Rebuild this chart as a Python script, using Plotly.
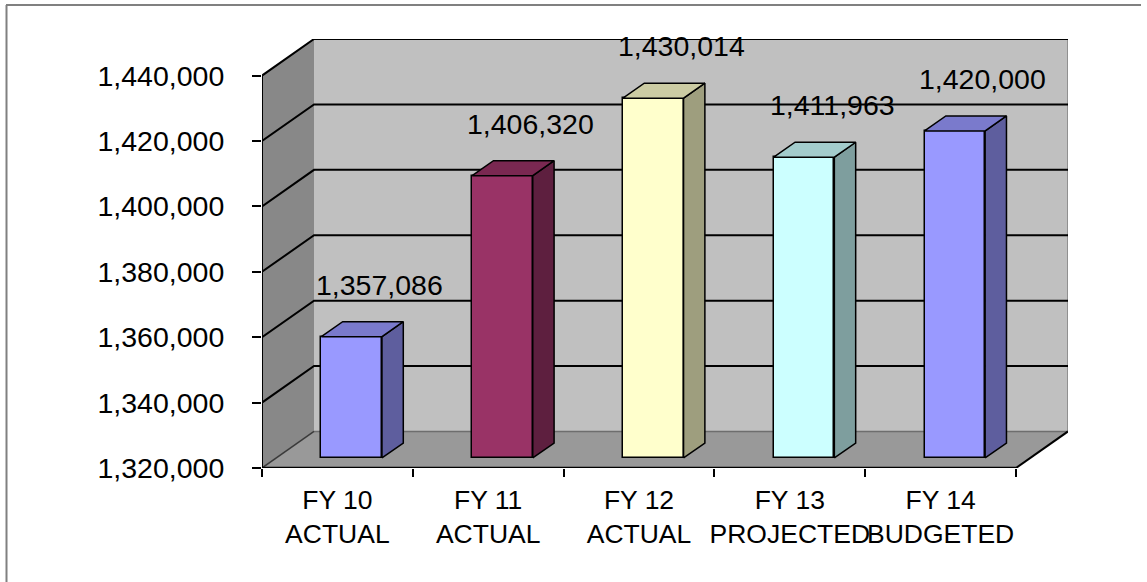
import plotly.graph_objects as go

# ---------------- data ----------------
categories = ["FY 10<br>ACTUAL", "FY 11<br>ACTUAL", "FY 12<br>ACTUAL",
              "FY 13<br>PROJECTED", "FY 14<br>BUDGETED"]
values = [1357086, 1406320, 1430014, 1411963, 1420000]
bar_colors = ["#9999FF", "#993366", "#FFFFCC", "#CCFFFF", "#9999FF"]
y_ticks = [1320000, 1340000, 1360000, 1380000, 1400000, 1420000, 1440000]

# ---------------- geometry of the fake 3D box ----------------
W_PX, H_PX = 1147, 582
ML, MR, MT, MB = 262, 79, 39, 114
Y0, YT = y_ticks[0], y_ticks[-1]
DX = 0.345      # depth offset in category units
DY = 11180      # depth offset in value units
F0 = 0.274      # depth position of bar front face (fraction of depth)
FD = 0.41       # bar depth (fraction of depth)
BW = 0.402      # bar width in category units
n = len(values)
XL, XR = -0.5, n - 0.5


def shade(hex_color, k):
    h = hex_color.lstrip("#")
    r, g, b = (int(h[i:i + 2], 16) for i in (0, 2, 4))
    return "#%02x%02x%02x" % (int(r * k), int(g * k), int(b * k))


def path(pts, close=True):
    s = "M " + " L ".join(f"{x},{y}" for x, y in pts)
    return s + (" Z" if close else "")


shapes = []
# back wall
shapes.append(dict(type="path", xref="x", yref="y", layer="below",
                   path=path([(XL + DX, Y0 + DY), (XR + DX, Y0 + DY), (XR + DX, YT + DY), (XL + DX, YT + DY)]),
                   fillcolor="#C0C0C0", line=dict(width=0)))
# left wall
shapes.append(dict(type="path", xref="x", yref="y", layer="below",
                   path=path([(XL, Y0), (XL, YT), (XL + DX, YT + DY), (XL + DX, Y0 + DY)]),
                   fillcolor="#888888", line=dict(width=0)))
# floor
shapes.append(dict(type="path", xref="x", yref="y", layer="below",
                   path=path([(XL, Y0), (XR, Y0), (XR + DX, Y0 + DY), (XL + DX, Y0 + DY)]),
                   fillcolor="#999999", line=dict(width=0)))
# edges
shapes.append(dict(type="path", xref="x", yref="y", layer="below",
                   path=path([(XR + DX, Y0 + DY), (XR + DX, YT + DY)], False),
                   line=dict(color="#808080", width=1.5)))
shapes.append(dict(type="path", xref="x", yref="y", layer="below",
                   path=path([(XL + DX, Y0 + DY), (XR + DX, Y0 + DY)], False),
                   line=dict(color="#6e6e6e", width=1.5)))
shapes.append(dict(type="path", xref="x", yref="y", layer="below",
                   path=path([(XL, Y0), (XL + DX, Y0 + DY)], False),
                   line=dict(color="#3a3a3a", width=1.5)))
shapes.append(dict(type="path", xref="x", yref="y", layer="below",
                   path=path([(XR, Y0), (XR + DX, Y0 + DY)], False),
                   line=dict(color="black", width=2)))
# gridlines
for v in y_ticks[1:]:
    shapes.append(dict(type="path", xref="x", yref="y", layer="below",
                       path=path([(XL, v), (XL + DX, v + DY), (XR + DX, v + DY)], False),
                       line=dict(color="black", width=2)))
# front axis lines
shapes.append(dict(type="path", xref="x", yref="y", layer="below",
                   path=path([(XL, Y0), (XL, YT)], False), line=dict(color="black", width=2)))
shapes.append(dict(type="path", xref="x", yref="y", layer="below",
                   path=path([(XL, Y0), (XR, Y0)], False), line=dict(color="black", width=2.5)))


def px_x(p):
    return (p - ML) / (W_PX - ML - MR)


def px_y(p):
    return (H_PX - MB - p) / (H_PX - MT - MB)


# outer frame (left and top)
shapes.append(dict(type="line", xref="paper", yref="paper", x0=px_x(6.5), x1=px_x(6.5),
                   y0=px_y(5), y1=px_y(582), line=dict(color="#808080", width=2)))
shapes.append(dict(type="line", xref="paper", yref="paper", x0=px_x(6), x1=px_x(1141),
                   y0=px_y(5), y1=px_y(5), line=dict(color="#808080", width=2)))

fig = go.Figure()

xs = [i + F0 * DX for i in range(n)]
base = Y0 + F0 * DY
fig.add_trace(go.Bar(
    x=xs, y=[v - Y0 for v in values], base=base, width=BW,
    marker=dict(color=bar_colors, line=dict(color="black", width=1.5)),
    hoverinfo="skip", showlegend=False))

for i, v in enumerate(values):
    xl, xr = xs[i] - BW / 2, xs[i] + BW / 2
    top = v + F0 * DY
    ddx, ddy = FD * DX, FD * DY
    side = [(xr, base), (xr, top), (xr + ddx, top + ddy), (xr + ddx, base + ddy), (xr, base)]
    topf = [(xl, top), (xr, top), (xr + ddx, top + ddy), (xl + ddx, top + ddy), (xl, top)]
    for pts, k in ((side, 0.62), (topf, 0.8)):
        fig.add_trace(go.Scatter(
            x=[p[0] for p in pts], y=[p[1] for p in pts], mode="lines", fill="toself",
            fillcolor=shade(bar_colors[i], k), line=dict(color="black", width=1.5),
            hoverinfo="skip", showlegend=False))

# dummy trace for the boundary tick axis
fig.add_trace(go.Scatter(x=[XL], y=[Y0], xaxis="x2", mode="markers",
                         marker=dict(opacity=0), hoverinfo="skip", showlegend=False))

annotations = []
for i, v in enumerate(values):
    annotations.append(dict(x=xs[i], y=v + F0 * DY, xref="x", yref="y", text=f"{v:,}",
                            showarrow=False, xshift=28, yshift=52,
                            font=dict(size=28.5, color="black", family="Liberation Sans")))

fig.update_layout(
    width=W_PX, height=H_PX, autosize=False,
    margin=dict(l=ML, r=MR, t=MT, b=MB, pad=0, autoexpand=False),
    paper_bgcolor="white", plot_bgcolor="white",
    font=dict(family="Liberation Sans", color="black"),
    shapes=shapes, annotations=annotations, bargap=0,
    xaxis=dict(range=[XL, XR + DX], tickmode="array", tickvals=list(range(n)),
               ticktext=categories, ticks="", showgrid=False, zeroline=False,
               showline=False, tickfont=dict(size=26.5), ticklabelstandoff=13,
               tickangle=0, automargin=False, fixedrange=True),
    xaxis2=dict(range=[XL, XR + DX], overlaying="x", anchor="y", side="bottom",
                tickmode="array", tickvals=[i - 0.5 for i in range(n + 1)],
                ticks="outside", ticklen=8, tickwidth=1.5, tickcolor="black",
                showticklabels=False, showgrid=False, zeroline=False, showline=False,
                automargin=False),
    yaxis=dict(range=[Y0, YT + DY], tickmode="array", tickvals=y_ticks,
               ticktext=[f"{t:,}" for t in y_ticks], ticks="outside", ticklen=9,
               tickwidth=1.5, tickcolor="black", showgrid=False, zeroline=False,
               showline=False, tickfont=dict(size=28.5), ticklabelstandoff=22,
               automargin=False, fixedrange=True),
)

fig.write_html("out.html")
